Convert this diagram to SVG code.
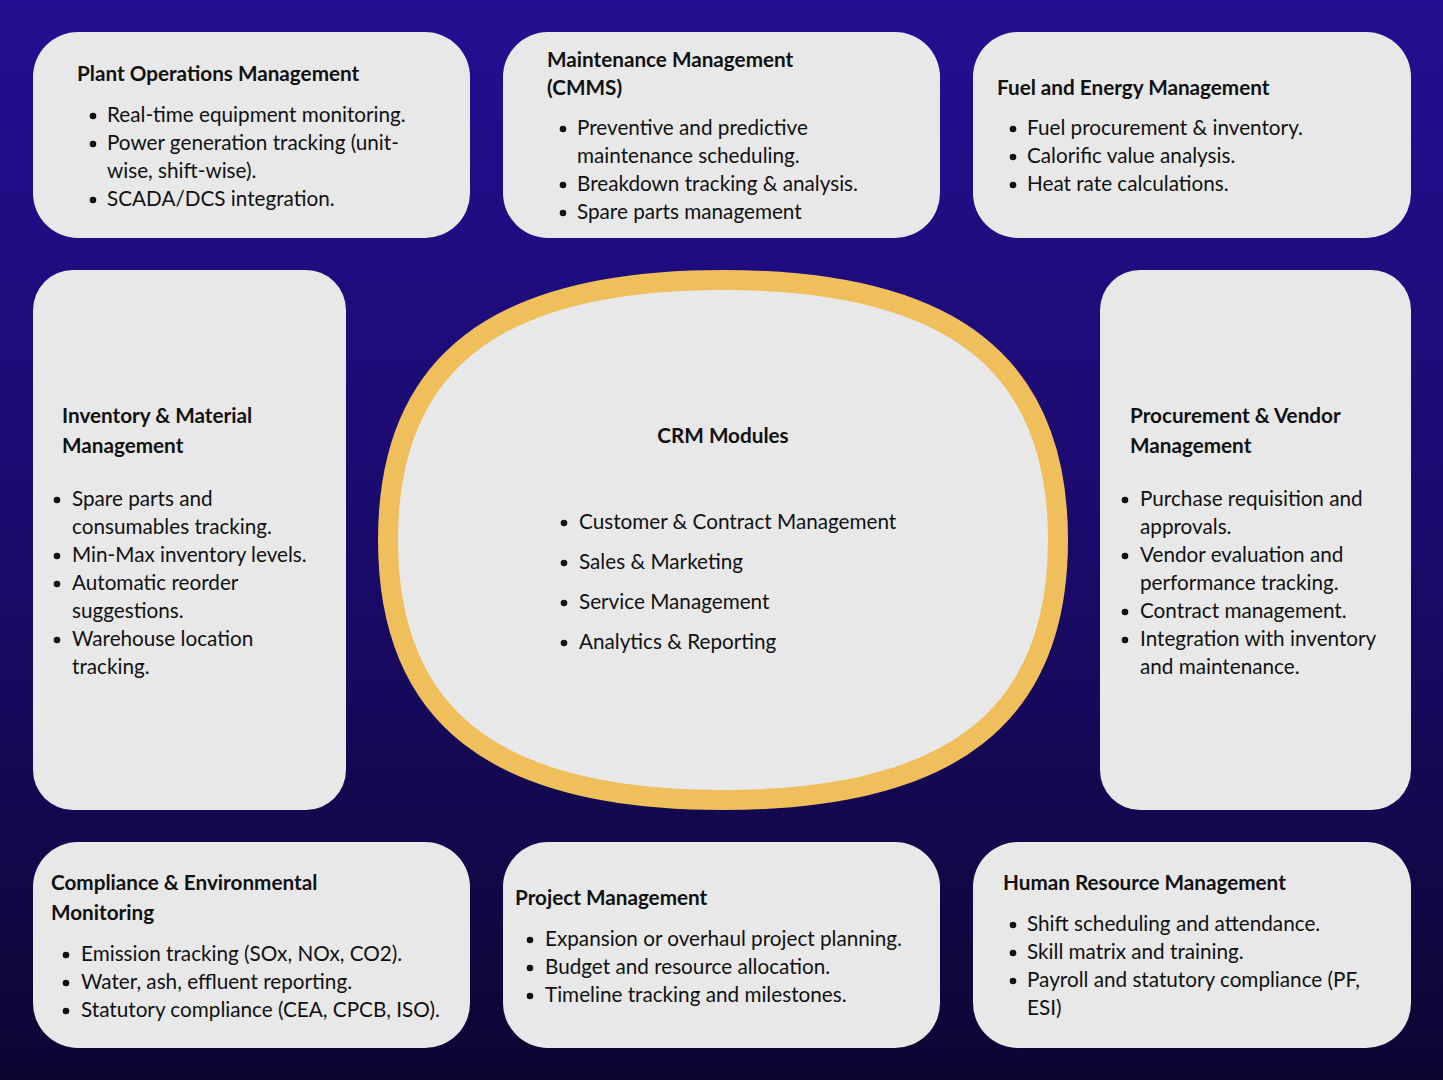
<svg xmlns="http://www.w3.org/2000/svg" width="1443" height="1080" viewBox="0 0 1443 1080">
<defs>
<linearGradient id="bg" x1="0" y1="0" x2="0" y2="1">
<stop offset="0" stop-color="#240f92"/>
<stop offset="0.5" stop-color="#1a0a6c"/>
<stop offset="1" stop-color="#0d0632"/>
</linearGradient>
</defs>
<style>
.box{fill:#e8e8e8;}
.ring{fill:#e8e8e8;stroke:#efbf5b;stroke-width:20;}
text{font-family:Lato,"Noto Sans","Liberation Sans",sans-serif;font-size:20.7px;fill:#111;}
.t{font-weight:bold;}
.dot{fill:#111;}
</style>
<rect width="1443" height="1080" fill="url(#bg)"/>
<g id="connectors"/>
<g id="plant-ops">
<rect class="box" x="33" y="32" width="437" height="206" rx="45"/>
<text class="t" x="77" y="81">Plant Operations Management</text>
<circle class="dot" cx="93" cy="116" r="3.3"/><text x="107" y="122">Real-time equipment monitoring.</text>
<circle class="dot" cx="93" cy="144" r="3.3"/><text x="107" y="150">Power generation tracking (unit-</text>
<text x="107" y="178">wise, shift-wise).</text>
<circle class="dot" cx="93" cy="200" r="3.3"/><text x="107" y="206">SCADA/DCS integration.</text>
</g>
<g id="maintenance">
<rect class="box" x="503" y="32" width="437" height="206" rx="45"/>
<text class="t" x="547" y="67">Maintenance Management</text>
<text class="t" x="547" y="95">(CMMS)</text>
<circle class="dot" cx="563" cy="129" r="3.3"/><text x="577" y="135">Preventive and predictive</text>
<text x="577" y="163">maintenance scheduling.</text>
<circle class="dot" cx="563" cy="185" r="3.3"/><text x="577" y="191">Breakdown tracking &amp; analysis.</text>
<circle class="dot" cx="563" cy="213" r="3.3"/><text x="577" y="219">Spare parts management</text>
</g>
<g id="fuel">
<rect class="box" x="973" y="32" width="438" height="206" rx="45"/>
<text class="t" x="997" y="95">Fuel and Energy Management</text>
<circle class="dot" cx="1013" cy="129" r="3.3"/><text x="1027" y="135">Fuel procurement &amp; inventory.</text>
<circle class="dot" cx="1013" cy="157" r="3.3"/><text x="1027" y="163">Calorific value analysis.</text>
<circle class="dot" cx="1013" cy="185" r="3.3"/><text x="1027" y="191">Heat rate calculations.</text>
</g>
<g id="inventory">
<rect class="box" x="33" y="270" width="313" height="540" rx="40"/>
<text class="t" x="62" y="423">Inventory &amp; Material</text>
<text class="t" x="62" y="453">Management</text>
<circle class="dot" cx="57" cy="500" r="3.3"/><text x="72" y="506">Spare parts and</text>
<text x="72" y="534">consumables tracking.</text>
<circle class="dot" cx="57" cy="556" r="3.3"/><text x="72" y="562">Min-Max inventory levels.</text>
<circle class="dot" cx="57" cy="584" r="3.3"/><text x="72" y="590">Automatic reorder</text>
<text x="72" y="618">suggestions.</text>
<circle class="dot" cx="57" cy="640" r="3.3"/><text x="72" y="646">Warehouse location</text>
<text x="72" y="674">tracking.</text>
</g>
<g id="crm">
<path class="ring" d="M388 540 C388 363 495 280 723 280 C951 280 1058 363 1058 540 C1058 717 951 800 723 800 C495 800 388 717 388 540 Z"/>
<text class="t" x="723" y="443" text-anchor="middle">CRM Modules</text>
<circle class="dot" cx="564" cy="523" r="3.3"/><text x="579" y="529">Customer &amp; Contract Management</text>
<circle class="dot" cx="564" cy="563" r="3.3"/><text x="579" y="569">Sales &amp; Marketing</text>
<circle class="dot" cx="564" cy="603" r="3.3"/><text x="579" y="609">Service Management</text>
<circle class="dot" cx="564" cy="643" r="3.3"/><text x="579" y="649">Analytics &amp; Reporting</text>
</g>
<g id="procurement">
<rect class="box" x="1100" y="270" width="311" height="540" rx="40"/>
<text class="t" x="1130" y="423">Procurement &amp; Vendor</text>
<text class="t" x="1130" y="453">Management</text>
<circle class="dot" cx="1125" cy="500" r="3.3"/><text x="1140" y="506">Purchase requisition and</text>
<text x="1140" y="534">approvals.</text>
<circle class="dot" cx="1125" cy="556" r="3.3"/><text x="1140" y="562">Vendor evaluation and</text>
<text x="1140" y="590">performance tracking.</text>
<circle class="dot" cx="1125" cy="612" r="3.3"/><text x="1140" y="618">Contract management.</text>
<circle class="dot" cx="1125" cy="640" r="3.3"/><text x="1140" y="646">Integration with inventory</text>
<text x="1140" y="674">and maintenance.</text>
</g>
<g id="compliance">
<rect class="box" x="33" y="842" width="437" height="206" rx="45"/>
<text class="t" x="51" y="890">Compliance &amp; Environmental</text>
<text class="t" x="51" y="920">Monitoring</text>
<circle class="dot" cx="66" cy="955" r="3.3"/><text x="81" y="961">Emission tracking (SOx, NOx, CO2).</text>
<circle class="dot" cx="66" cy="983" r="3.3"/><text x="81" y="989">Water, ash, effluent reporting.</text>
<circle class="dot" cx="66" cy="1011" r="3.3"/><text x="81" y="1017">Statutory compliance (CEA, CPCB, ISO).</text>
</g>
<g id="project">
<rect class="box" x="503" y="842" width="437" height="206" rx="45"/>
<text class="t" x="515" y="905">Project Management</text>
<circle class="dot" cx="530" cy="940" r="3.3"/><text x="545" y="946">Expansion or overhaul project planning.</text>
<circle class="dot" cx="530" cy="968" r="3.3"/><text x="545" y="974">Budget and resource allocation.</text>
<circle class="dot" cx="530" cy="996" r="3.3"/><text x="545" y="1002">Timeline tracking and milestones.</text>
</g>
<g id="hr">
<rect class="box" x="973" y="842" width="438" height="206" rx="45"/>
<text class="t" x="1003" y="890">Human Resource Management</text>
<circle class="dot" cx="1013" cy="925" r="3.3"/><text x="1027" y="931">Shift scheduling and attendance.</text>
<circle class="dot" cx="1013" cy="953" r="3.3"/><text x="1027" y="959">Skill matrix and training.</text>
<circle class="dot" cx="1013" cy="981" r="3.3"/><text x="1027" y="987">Payroll and statutory compliance (PF,</text>
<text x="1027" y="1015">ESI)</text>
</g>
</svg>
